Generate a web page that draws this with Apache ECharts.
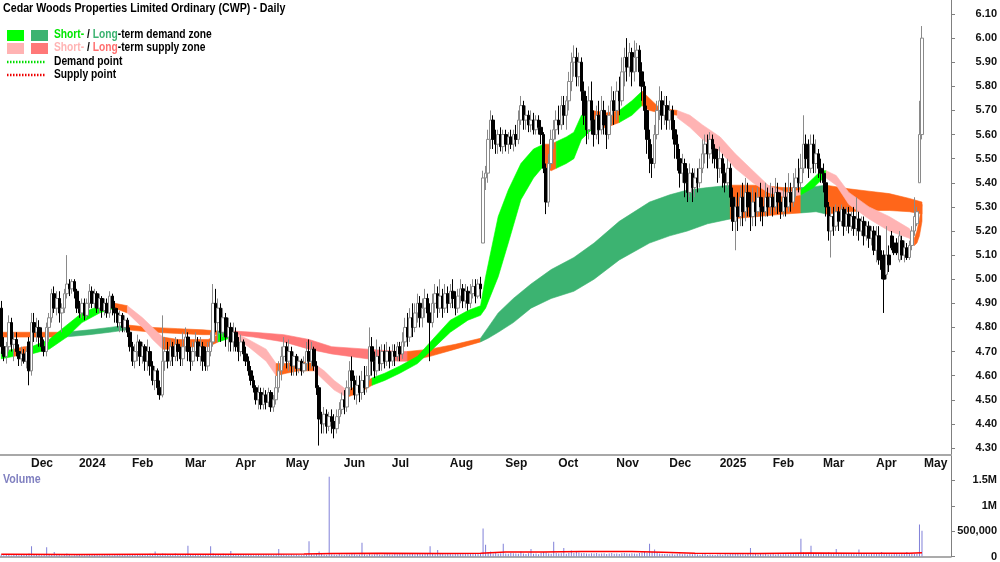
<!DOCTYPE html>
<html>
<head>
<meta charset="utf-8">
<script src="https://cdn.jsdelivr.net/npm/echarts@6/dist/echarts.min.js"></script>
<style>html,body{margin:0;padding:0;background:#fff}#main{width:1000px;height:562px}</style>
</head>
<body>
<div id="main"></div>
<script>
// trading days per month (first label-less month starts 16 Nov 2023)
const months = [['', 11], ['Dec', 19], ['2024', 21], ['Feb', 21], ['Mar', 20], ['Apr', 20], ['May', 23],
  ['Jun', 19], ['Jul', 23], ['Aug', 22], ['Sep', 21], ['Oct', 23], ['Nov', 21], ['Dec', 20],
  ['2025', 21], ['Feb', 20], ['Mar', 21], ['Apr', 19], ['May', 1]];
const emptySlots = 11;

const opens = [
  4.88,4.72,4.68,4.72,4.82,4.73,4.75,4.70,4.67,4.69,4.66,
  4.74,4.62,4.82,4.78,4.80,4.76,4.72,4.70,4.80,4.84,4.94,4.88,4.92,4.86,4.88,4.94,4.98,4.96,4.99,
  4.95,4.88,4.86,4.90,4.85,4.90,4.95,4.90,4.94,4.88,4.92,4.87,4.90,4.86,4.93,4.88,4.86,4.82,4.85,4.80,4.83,
  4.78,4.72,4.66,4.70,4.74,4.68,4.72,4.66,4.70,4.64,4.58,4.62,4.55,4.52,4.66,4.70,4.66,4.72,4.68,4.73,4.70,
  4.67,4.72,4.76,4.70,4.66,4.70,4.74,4.68,4.72,4.70,4.64,4.70,4.74,4.90,4.82,4.88,4.78,4.84,4.76,4.80,
  4.74,4.78,4.72,4.70,4.74,4.69,4.66,4.62,4.58,4.55,4.50,4.53,4.48,4.52,4.49,4.53,4.47,4.50,4.55,4.62,
  4.68,4.72,4.66,4.70,4.64,4.68,4.63,4.66,4.62,4.65,4.70,4.66,4.71,4.64,4.55,4.42,4.40,4.44,4.39,4.43,4.41,4.38,4.43,
  4.46,4.50,4.47,4.55,4.62,4.58,4.52,4.56,4.53,4.58,4.55,4.60,4.72,4.66,4.62,4.68,4.65,4.70,4.66,
  4.70,4.66,4.70,4.68,4.72,4.69,4.74,4.80,4.76,4.84,4.80,4.86,4.90,4.84,4.88,4.92,4.86,4.82,4.90,4.94,4.88,4.93,4.88,
  4.94,4.90,4.95,4.92,4.88,4.93,4.96,4.91,4.95,4.90,4.94,4.97,4.93,4.98,5.15,5.42,5.44,5.58,5.66,5.58,5.56,5.60,
  5.55,5.60,5.56,5.59,5.56,5.60,5.58,5.66,5.72,5.66,5.68,5.64,5.66,5.62,5.66,5.63,5.60,5.46,5.32,5.48,5.58,
  5.62,5.66,5.64,5.72,5.68,5.74,5.82,5.90,5.92,5.84,5.90,5.78,5.68,5.62,5.74,5.66,5.60,5.68,5.62,5.70,5.64,5.60,5.68,
  5.74,5.70,5.78,5.74,5.86,5.92,5.88,5.94,5.86,5.92,5.95,5.86,5.80,5.70,5.58,5.50,5.48,5.60,5.70,5.74,5.68,
  5.72,5.66,5.70,5.62,5.56,5.50,5.44,5.48,5.40,5.36,5.44,5.38,5.42,5.40,5.46,5.52,5.56,5.52,5.58,5.54,
  5.50,5.46,5.50,5.44,5.40,5.46,5.34,5.24,5.30,5.26,5.34,5.28,5.36,5.30,5.26,5.32,5.28,5.34,5.30,5.28,5.34,
  5.30,5.34,5.30,5.36,5.32,5.28,5.34,5.30,5.36,5.32,5.38,5.42,5.40,5.46,5.56,5.50,5.46,5.56,5.48,5.52,
  5.46,5.44,5.40,5.30,5.20,5.26,5.22,5.28,5.24,5.29,5.22,5.27,5.22,5.26,5.21,5.25,5.20,5.24,5.18,5.22,5.17,
  5.20,5.12,5.18,5.08,5.10,5.02,5.10,5.18,5.15,5.15,5.08,5.16,5.10,5.13,5.09,5.14,5.20,5.23,5.40,
  5.60
];
const highs = [
  4.91,4.76,4.74,4.85,4.84,4.78,4.78,4.73,4.72,4.71,4.72,
  4.76,4.86,4.86,4.84,4.83,4.80,4.75,4.82,4.86,4.96,4.97,4.95,4.95,4.90,4.96,5.10,5.00,5.00,5.00,
  4.96,4.91,4.92,4.92,4.92,4.98,4.97,4.96,4.95,4.94,4.93,4.92,4.92,4.95,4.94,4.91,4.88,4.87,4.86,4.85,4.84,
  4.80,4.74,4.73,4.77,4.75,4.74,4.73,4.75,4.72,4.66,4.64,4.63,4.58,4.85,4.76,4.74,4.75,4.74,4.76,4.75,4.72,
  4.78,4.80,4.78,4.72,4.74,4.78,4.76,4.76,4.74,4.72,4.74,4.78,4.98,4.96,4.92,4.90,4.88,4.86,4.84,4.82,
  4.82,4.80,4.76,4.77,4.75,4.72,4.68,4.64,4.60,4.56,4.56,4.55,4.55,4.54,4.55,4.54,4.52,4.60,4.66,4.72,
  4.76,4.74,4.75,4.72,4.70,4.69,4.68,4.67,4.68,4.74,4.75,4.74,4.72,4.66,4.56,4.45,4.47,4.46,4.45,4.46,4.44,4.46,4.49,
  4.53,4.54,4.58,4.66,4.68,4.60,4.60,4.60,4.62,4.64,4.64,4.80,4.76,4.70,4.75,4.72,4.73,4.73,4.74,
  4.72,4.73,4.73,4.74,4.74,4.78,4.84,4.86,4.88,4.90,4.90,4.94,4.93,4.92,4.96,4.94,4.90,4.94,4.98,4.97,5.00,4.96,4.98,
  4.97,4.98,5.00,4.95,4.96,5.00,4.98,4.98,4.97,4.98,5.00,5.00,5.00,5.01,5.45,5.47,5.62,5.70,5.68,5.62,5.62,5.63,
  5.62,5.62,5.61,5.62,5.62,5.64,5.70,5.76,5.74,5.72,5.70,5.70,5.69,5.68,5.68,5.66,5.61,5.48,5.52,5.62,5.66,
  5.70,5.72,5.76,5.76,5.76,5.86,5.94,5.97,5.96,5.94,5.92,5.82,5.76,5.80,5.82,5.70,5.72,5.74,5.76,5.74,5.68,5.72,5.80,
  5.78,5.82,5.84,5.92,5.96,6.00,5.98,5.96,5.99,5.98,5.97,5.90,5.82,5.72,5.62,5.56,5.64,5.74,5.80,5.78,5.76,
  5.76,5.74,5.72,5.66,5.60,5.54,5.52,5.50,5.46,5.48,5.46,5.46,5.46,5.50,5.58,5.60,5.60,5.61,5.60,5.56,
  5.54,5.55,5.52,5.48,5.50,5.48,5.38,5.34,5.36,5.38,5.40,5.42,5.40,5.36,5.38,5.36,5.38,5.40,5.34,5.40,5.38,
  5.40,5.38,5.42,5.40,5.36,5.38,5.40,5.44,5.40,5.44,5.46,5.50,5.52,5.68,5.60,5.58,5.60,5.60,5.58,5.54,
  5.50,5.48,5.44,5.32,5.30,5.30,5.31,5.30,5.31,5.30,5.30,5.30,5.28,5.30,5.34,5.28,5.26,5.26,5.24,5.24,5.22,
  5.22,5.22,5.22,5.12,5.12,5.22,5.14,5.20,5.18,5.17,5.20,5.18,5.16,5.15,5.16,5.22,5.34,5.30,5.74,
  6.05
];
const lows = [
  4.69,4.66,4.65,4.70,4.70,4.66,4.68,4.64,4.64,4.65,4.63,
  4.56,4.60,4.74,4.74,4.72,4.70,4.68,4.68,4.74,4.82,4.86,4.85,4.82,4.78,4.86,4.92,4.93,4.94,4.92,
  4.86,4.84,4.84,4.83,4.84,4.88,4.88,4.88,4.86,4.86,4.84,4.85,4.84,4.84,4.85,4.82,4.80,4.78,4.78,4.78,4.76,
  4.70,4.64,4.63,4.66,4.64,4.65,4.62,4.62,4.60,4.56,4.54,4.52,4.50,4.51,4.62,4.63,4.64,4.64,4.66,4.66,4.64,
  4.64,4.70,4.66,4.62,4.64,4.68,4.66,4.64,4.62,4.62,4.62,4.68,4.72,4.78,4.74,4.74,4.76,4.72,4.70,4.70,
  4.70,4.70,4.66,4.68,4.66,4.64,4.60,4.56,4.53,4.48,4.46,4.46,4.46,4.46,4.47,4.45,4.45,4.48,4.53,4.58,
  4.64,4.63,4.62,4.60,4.60,4.60,4.61,4.60,4.61,4.62,4.62,4.63,4.62,4.52,4.31,4.36,4.36,4.36,4.37,4.36,4.34,4.36,4.40,
  4.44,4.44,4.45,4.52,4.54,4.50,4.48,4.49,4.50,4.52,4.53,4.58,4.60,4.59,4.60,4.62,4.62,4.63,4.64,
  4.63,4.64,4.64,4.66,4.66,4.67,4.72,4.72,4.74,4.76,4.78,4.82,4.80,4.80,4.84,4.82,4.66,4.80,4.86,4.84,4.86,4.84,4.86,
  4.86,4.88,4.88,4.85,4.86,4.90,4.88,4.88,4.87,4.88,4.92,4.90,4.92,4.92,5.15,5.37,5.40,5.54,5.54,5.52,5.52,5.53,
  5.52,5.53,5.52,5.54,5.53,5.55,5.56,5.64,5.62,5.62,5.61,5.61,5.60,5.60,5.60,5.56,5.44,5.27,5.30,5.46,5.54,
  5.58,5.60,5.62,5.64,5.62,5.70,5.78,5.84,5.80,5.80,5.74,5.64,5.56,5.58,5.60,5.55,5.58,5.56,5.60,5.60,5.54,5.58,5.64,
  5.64,5.66,5.68,5.72,5.80,5.82,5.84,5.80,5.82,5.86,5.80,5.74,5.62,5.52,5.44,5.42,5.46,5.58,5.66,5.62,5.64,
  5.62,5.62,5.58,5.50,5.45,5.38,5.40,5.34,5.32,5.34,5.32,5.34,5.36,5.38,5.44,5.48,5.46,5.50,5.48,5.46,
  5.40,5.42,5.38,5.36,5.38,5.30,5.20,5.12,5.20,5.22,5.22,5.24,5.26,5.20,5.22,5.22,5.26,5.24,5.22,5.26,5.26,
  5.27,5.26,5.28,5.27,5.25,5.26,5.26,5.28,5.28,5.30,5.34,5.36,5.38,5.44,5.46,5.42,5.44,5.44,5.44,5.42,
  5.40,5.36,5.26,5.16,5.09,5.18,5.20,5.20,5.22,5.18,5.20,5.19,5.20,5.18,5.18,5.16,5.18,5.14,5.16,5.13,5.14,
  5.10,5.07,5.06,5.00,4.86,5.00,5.03,5.12,5.10,5.10,5.07,5.08,5.07,5.08,5.08,5.12,5.18,5.22,5.40,
  5.58
];
const closes = [
  4.72,4.68,4.72,4.82,4.73,4.75,4.70,4.67,4.69,4.66,4.70,
  4.62,4.82,4.78,4.80,4.76,4.72,4.70,4.80,4.84,4.94,4.88,4.92,4.86,4.88,4.94,4.98,4.96,4.99,4.95,
  4.88,4.86,4.90,4.85,4.90,4.95,4.90,4.94,4.88,4.92,4.87,4.90,4.86,4.93,4.88,4.86,4.82,4.85,4.80,4.83,4.78,
  4.72,4.66,4.70,4.74,4.68,4.72,4.66,4.70,4.64,4.58,4.62,4.55,4.52,4.66,4.70,4.66,4.72,4.68,4.73,4.70,4.67,
  4.72,4.76,4.70,4.66,4.70,4.74,4.68,4.72,4.66,4.64,4.70,4.74,4.90,4.82,4.88,4.78,4.84,4.76,4.80,4.74,
  4.78,4.72,4.70,4.74,4.69,4.66,4.62,4.58,4.55,4.50,4.53,4.48,4.52,4.49,4.53,4.47,4.50,4.55,4.62,4.68,
  4.72,4.66,4.70,4.64,4.68,4.63,4.66,4.62,4.65,4.70,4.66,4.71,4.64,4.55,4.42,4.40,4.44,4.39,4.43,4.41,4.38,4.43,4.46,
  4.50,4.47,4.55,4.62,4.58,4.52,4.56,4.53,4.58,4.55,4.60,4.72,4.66,4.62,4.68,4.65,4.70,4.66,4.70,
  4.66,4.70,4.68,4.72,4.69,4.74,4.80,4.76,4.84,4.80,4.86,4.90,4.84,4.88,4.92,4.86,4.82,4.90,4.94,4.88,4.93,4.88,4.94,
  4.90,4.95,4.92,4.88,4.93,4.96,4.91,4.95,4.90,4.94,4.97,4.93,4.98,4.96,5.42,5.44,5.58,5.66,5.58,5.56,5.60,5.55,
  5.60,5.56,5.59,5.56,5.60,5.58,5.66,5.72,5.66,5.68,5.64,5.66,5.62,5.66,5.63,5.60,5.46,5.32,5.48,5.58,5.62,
  5.66,5.64,5.72,5.68,5.74,5.82,5.90,5.92,5.84,5.90,5.78,5.68,5.62,5.74,5.66,5.60,5.68,5.62,5.70,5.64,5.60,5.68,5.74,
  5.70,5.78,5.74,5.86,5.92,5.88,5.94,5.86,5.92,5.95,5.86,5.80,5.70,5.58,5.50,5.48,5.60,5.70,5.74,5.68,5.72,
  5.66,5.70,5.62,5.56,5.50,5.44,5.48,5.40,5.36,5.44,5.38,5.42,5.40,5.46,5.52,5.56,5.52,5.58,5.54,5.50,
  5.46,5.50,5.44,5.40,5.46,5.34,5.24,5.30,5.26,5.34,5.28,5.36,5.30,5.26,5.32,5.28,5.34,5.30,5.28,5.34,5.30,
  5.34,5.30,5.36,5.32,5.28,5.34,5.30,5.36,5.32,5.38,5.42,5.40,5.46,5.56,5.50,5.46,5.56,5.48,5.52,5.46,
  5.44,5.40,5.30,5.20,5.26,5.22,5.28,5.24,5.29,5.22,5.27,5.22,5.26,5.21,5.25,5.20,5.24,5.18,5.22,5.17,5.20,
  5.12,5.18,5.08,5.04,5.00,5.10,5.06,5.13,5.11,5.11,5.18,5.10,5.13,5.09,5.14,5.20,5.26,5.28,5.60,
  6.00
];
// daily volume, thousands of shares
const volumesK = [
  40,25,30,35,20,45,30,25,35,30,40,
  60,200,35,30,40,25,45,180,50,40,90,35,30,25,45,60,30,20,25,
  30,40,35,25,30,45,40,30,35,25,30,40,35,30,25,30,35,40,30,45,35,
  40,50,30,35,45,30,40,35,55,45,100,50,40,60,55,45,35,40,60,45,35,
  50,40,210,45,35,40,30,45,35,40,50,200,60,45,50,40,55,45,40,110,
  45,40,35,45,30,40,35,30,25,35,40,30,35,45,40,35,30,40,150,45,
  40,35,30,45,35,40,30,25,35,40,300,45,40,60,100,50,40,35,1570,45,40,35,50,
  40,35,45,40,50,45,35,40,270,45,35,60,40,45,50,40,35,45,50,
  45,40,50,45,55,50,60,45,50,55,45,60,50,45,55,60,200,50,45,130,55,60,45,
  50,55,45,60,50,65,55,60,50,55,60,70,65,60,550,230,90,100,60,70,55,65,
  250,60,55,70,65,60,55,100,60,50,65,150,55,60,45,70,90,80,60,55,290,
  70,60,65,170,55,75,120,70,110,80,65,70,60,55,65,60,70,55,60,65,50,60,70,
  55,60,50,65,70,60,55,65,60,55,70,80,90,70,250,95,140,80,60,55,50,
  50,45,55,40,50,60,45,55,40,50,45,55,40,35,45,50,30,40,35,30,
  40,45,35,50,40,55,60,70,50,45,55,40,50,170,45,60,40,50,45,55,40,
  45,50,40,55,45,50,60,45,55,50,60,55,350,80,60,55,210,65,50,60,
  55,60,70,80,65,60,150,55,60,50,65,55,60,50,45,140,55,50,60,45,50,
  55,50,60,90,70,55,50,45,55,50,45,60,50,90,55,60,50,55,630,
  510
];
// volume average line, read at sample days: [day, thousands]
const volumeAvgK = [[0,42],[30,40],[60,44],[90,46],[120,48],[131,60],[150,62],[175,58],[190,66],
  [200,88],[215,90],[230,98],[250,98],[262,85],[275,62],[300,60],[320,68],[340,66],[360,62],[365,72]];

// zones: dS short demand, dL long demand, sS short supply, sL long supply, n neutral
// each segment: [zone, [[day, lower, upper], ...]]
const longBand = [
  ['n',  [[0,4.76,4.78],[12,4.76,4.78],[25,4.76,4.78]]],
  ['dL', [[25,4.76,4.78],[35,4.77,4.79],[43,4.78,4.80],[50,4.79,4.81]]],
  ['n',  [[50,4.79,4.81],[60,4.78,4.80],[70,4.775,4.795],[80,4.77,4.79],[86,4.77,4.785]]],
  ['dL', [[86,4.77,4.785],[92,4.77,4.785]]],
  ['sL', [[92,4.77,4.785],[100,4.76,4.78],[112,4.74,4.77],[122,4.71,4.75],[131,4.69,4.72],[145,4.67,4.71],[158,4.66,4.70],[161,4.66,4.70]]],
  ['n',  [[161,4.66,4.70],[170,4.68,4.71],[180,4.71,4.73],[190,4.74,4.755]]],
  ['dL', [[190,4.74,4.755],[193,4.755,4.80],[197,4.78,4.86],[203,4.82,4.92],[210,4.88,4.98],[218,4.92,5.04],[227,4.95,5.09],
          [235,5.00,5.15],[245,5.08,5.24],[257,5.15,5.32],[265,5.18,5.35],[272,5.20,5.37],[280,5.23,5.38],[289,5.25,5.39]]],
  ['n',  [[289,5.25,5.39],[300,5.26,5.39],[310,5.27,5.38],[317,5.275,5.38]]],
  ['dL', [[317,5.275,5.38],[323,5.28,5.385],[327,5.27,5.39]]],
  ['n',  [[327,5.27,5.39],[336,5.28,5.375],[344,5.285,5.365],[352,5.285,5.355],[360,5.28,5.335],[365,5.27,5.32]]]
];
const shortBand = [
  ['dS', [[0,4.67,4.70],[5,4.68,4.71]]],
  ['n',  [[5,4.68,4.71],[9,4.69,4.72],[12,4.69,4.72]]],
  ['dS', [[12,4.69,4.72],[19,4.71,4.75],[26,4.76,4.81],[32,4.82,4.86],[39,4.86,4.89],[45,4.88,4.90]]],
  ['n',  [[45,4.88,4.90],[50,4.86,4.89]]],
  ['sS', [[50,4.86,4.89],[56,4.80,4.84],[60,4.75,4.80],[64,4.71,4.76]]],
  ['n',  [[64,4.71,4.76],[70,4.71,4.75],[76,4.72,4.75],[82,4.72,4.75],[86,4.74,4.77]]],
  ['dS', [[86,4.74,4.77],[92,4.76,4.78]]],
  ['sS', [[92,4.76,4.78],[98,4.72,4.75],[105,4.66,4.71],[109,4.60,4.65]]],
  ['n',  [[109,4.60,4.65],[113,4.61,4.65],[118,4.62,4.66],[124,4.62,4.65]]],
  ['sS', [[124,4.62,4.65],[128,4.58,4.62],[132,4.54,4.58],[137,4.51,4.54]]],
  ['n',  [[137,4.51,4.54],[142,4.53,4.56],[147,4.56,4.59]]],
  ['dS', [[147,4.56,4.59],[152,4.58,4.61],[158,4.61,4.64],[165,4.65,4.68],[171,4.71,4.75],[178,4.78,4.83],[185,4.83,4.87],
          [190,4.85,4.89],[192,4.88,5.01],[197,5.01,5.26],[201,5.15,5.37],[206,5.33,5.48],[211,5.42,5.54],[215,5.47,5.56]]],
  ['n',  [[215,5.47,5.56],[218,5.45,5.56],[220,5.46,5.57]]],
  ['dS', [[220,5.46,5.57],[224,5.48,5.59],[227,5.50,5.61],[230,5.58,5.68],[234,5.62,5.70]]],
  ['n',  [[234,5.62,5.70],[240,5.63,5.69],[245,5.65,5.70]]],
  ['dS', [[245,5.65,5.70],[250,5.68,5.74],[254,5.72,5.78]]],
  ['n',  [[254,5.72,5.78],[257,5.70,5.75],[261,5.69,5.71],[268,5.68,5.70]]],
  ['sS', [[268,5.67,5.70],[273,5.63,5.68],[278,5.58,5.64],[285,5.53,5.59],[291,5.46,5.52],[298,5.40,5.45],[304,5.36,5.39],
          [311,5.34,5.36],[317,5.35,5.37]]],
  ['dS', [[317,5.35,5.37],[322,5.38,5.42],[325,5.41,5.45],[327,5.42,5.45]]],
  ['sS', [[327,5.42,5.45],[331,5.39,5.43],[336,5.31,5.36],[344,5.25,5.30],[352,5.20,5.26],[360,5.17,5.21],[362,5.14,5.17]]],
  ['n',  [[362,5.14,5.17],[363,5.15,5.20],[364,5.18,5.25],[365,5.24,5.31]]]
];

const zoneColors = {dS: '#00ff00', dL: '#3cb371', sS: '#ffb3b3', sL: '#ff7878', n: '#ff661a'};
const FONT = '"Liberation Sans", Arial, sans-serif';

// categories: one per trading day plus empty slots on the right
const cats = [];
const tickLabel = {};
months.forEach(function (m) {
  for (let k = 0; k < m[1]; k++) {
    if (k === 0 && m[0]) tickLabel[cats.length] = m[0];
    cats.push('d' + cats.length);
  }
});
for (let k = 0; k < emptySlots; k++) cats.push('e' + k);
const isMonthStart = function (idx) { return tickLabel[idx] !== undefined; };

const candles = opens.map(function (o, i) { return [o, closes[i], lows[i], highs[i]]; });
const volumes = volumesK.map(function (v) { return v * 1000; });
const volumeAvg = volumeAvgK.map(function (p) { return [p[0], p[1] * 1000]; });

function bandSeries(segs) {
  return {
    type: 'custom', xAxisIndex: 0, yAxisIndex: 0, silent: true, clip: true,
    data: segs.map(function (s) { return s[1][0]; }),
    encode: {x: 0, y: [1, 2]},
    renderItem: function (params, api) {
      const seg = segs[params.dataIndex];
      const pts = seg[1];
      const upper = pts.map(function (p) { return api.coord([p[0], p[2]]); });
      const lower = pts.slice().reverse().map(function (p) { return api.coord([p[0], p[1]]); });
      const c = zoneColors[seg[0]];
      return {type: 'polygon', shape: {points: upper.concat(lower)}, style: {fill: c, stroke: c, lineWidth: 0.6}};
    }
  };
}

const chart = echarts.init(document.getElementById('main'));
const labelFont = {fontFamily: FONT, fontWeight: 'bold', fontSize: 11, color: '#111'};

// narrow bold look of the original: scale the headline texts horizontally
function label(x, y, text, size, rich, fill) {
  return {type: 'text', x: x, y: y, scaleX: 0.82, style: {text: text, fontFamily: FONT, fontWeight: 'bold',
    fontSize: size, fill: fill || '#000', verticalAlign: 'middle', rich: rich || {}}};
}
function richPart(color) { return {fill: color, fontFamily: FONT, fontWeight: 'bold', fontSize: 12.5}; }

chart.setOption({
  animation: false,
  backgroundColor: '#fff',
  grid: [
    {left: 0, right: 48, top: 0, height: 469},
    {left: 0, right: 48, top: 469, height: 88}
  ],
  xAxis: [{
    type: 'category', gridIndex: 0, data: cats, boundaryGap: true, offset: -14,
    axisLine: {lineStyle: {color: '#a8a8a8', width: 2}},
    axisTick: {alignWithLabel: true, length: 3, interval: isMonthStart, lineStyle: {color: '#888'}},
    axisLabel: Object.assign({
      interval: isMonthStart, align: 'left', margin: 3, padding: [0, 0, 0, 2],
      formatter: function (v, i) { return tickLabel[i] || ''; }
    }, labelFont, {fontSize: 12}),
    splitLine: {show: false}
  }, {
    type: 'category', gridIndex: 1, data: cats, boundaryGap: true, position: 'top',
    axisLine: {lineStyle: {color: '#909090', width: 1.5}},
    axisTick: {show: false}, axisLabel: {show: false}, splitLine: {show: false}
  }],
  yAxis: [{
    type: 'value', gridIndex: 0, position: 'right', min: 4.2128, max: 6.1581, splitNumber: 19, scale: true,
    axisLine: {show: true, lineStyle: {color: '#808080'}},
    axisTick: {show: true, length: 4, lineStyle: {color: '#808080'}},
    axisLabel: Object.assign({align: 'right', margin: 46, showMinLabel: false, showMaxLabel: false,
      formatter: function (v) { return v.toFixed(2); }}, labelFont),
    splitLine: {show: false}
  }, {
    type: 'value', gridIndex: 1, position: 'right', min: 0, max: 1725000, interval: 500000,
    axisLine: {show: true, lineStyle: {color: '#808080'}},
    axisTick: {show: true, length: 4, lineStyle: {color: '#808080'}},
    axisLabel: Object.assign({align: 'right', margin: 46, showMaxLabel: false,
      formatter: function (v) {
        if (v === 0) return '0';
        if (v === 500000) return '500,000';
        return (v / 1e6) + 'M';
      }}, labelFont),
    splitLine: {show: false}
  }],
  series: [
    bandSeries(longBand),
    bandSeries(shortBand),
    {
      type: 'candlestick', xAxisIndex: 0, yAxisIndex: 0, data: candles, barWidth: 3,
      itemStyle: {color: '#ffffff', color0: '#000000', borderColor: '#8a8a8a', borderColor0: '#000000', borderWidth: 1}
    },
    {
      type: 'bar', xAxisIndex: 1, yAxisIndex: 1, data: volumes, barWidth: 1,
      itemStyle: {color: '#8080d8'}
    },
    {
      type: 'line', xAxisIndex: 1, yAxisIndex: 1, data: volumeAvg, showSymbol: false,
      lineStyle: {color: '#ff0000', width: 1.5}
    }
  ],
  graphic: [
    label(3, 8, 'Cedar Woods Properties Limited Ordinary (CWP) - Daily', 13),
    {type: 'rect', shape: {x: 7, y: 30, width: 17, height: 11}, style: {fill: zoneColors.dS}},
    {type: 'rect', shape: {x: 31, y: 30, width: 17, height: 11}, style: {fill: zoneColors.dL}},
    {type: 'rect', shape: {x: 7, y: 43, width: 17, height: 11}, style: {fill: zoneColors.sS}},
    {type: 'rect', shape: {x: 31, y: 43, width: 17, height: 11}, style: {fill: zoneColors.sL}},
    {type: 'line', shape: {x1: 7, y1: 62, x2: 46, y2: 62}, style: {stroke: '#00dd00', lineWidth: 2.5, lineDash: [1.5, 1.5]}},
    {type: 'line', shape: {x1: 7, y1: 75, x2: 46, y2: 75}, style: {stroke: '#ee0000', lineWidth: 2.5, lineDash: [1.5, 1.5]}},
    label(54, 35, '{g|Short-} / {dg|Long}-term demand zone', 12.5, {g: richPart('#00e600'), dg: richPart('#3cb371')}),
    label(54, 48, '{p|Short-} / {r|Long}-term supply zone', 12.5, {p: richPart('#ffb3b3'), r: richPart('#ff6f6f')}),
    label(54, 62, 'Demand point', 12.5),
    label(54, 75, 'Supply point', 12.5),
    label(3, 479, 'Volume', 13, null, '#8080c0')
  ]
});
</script>
</body>
</html>
